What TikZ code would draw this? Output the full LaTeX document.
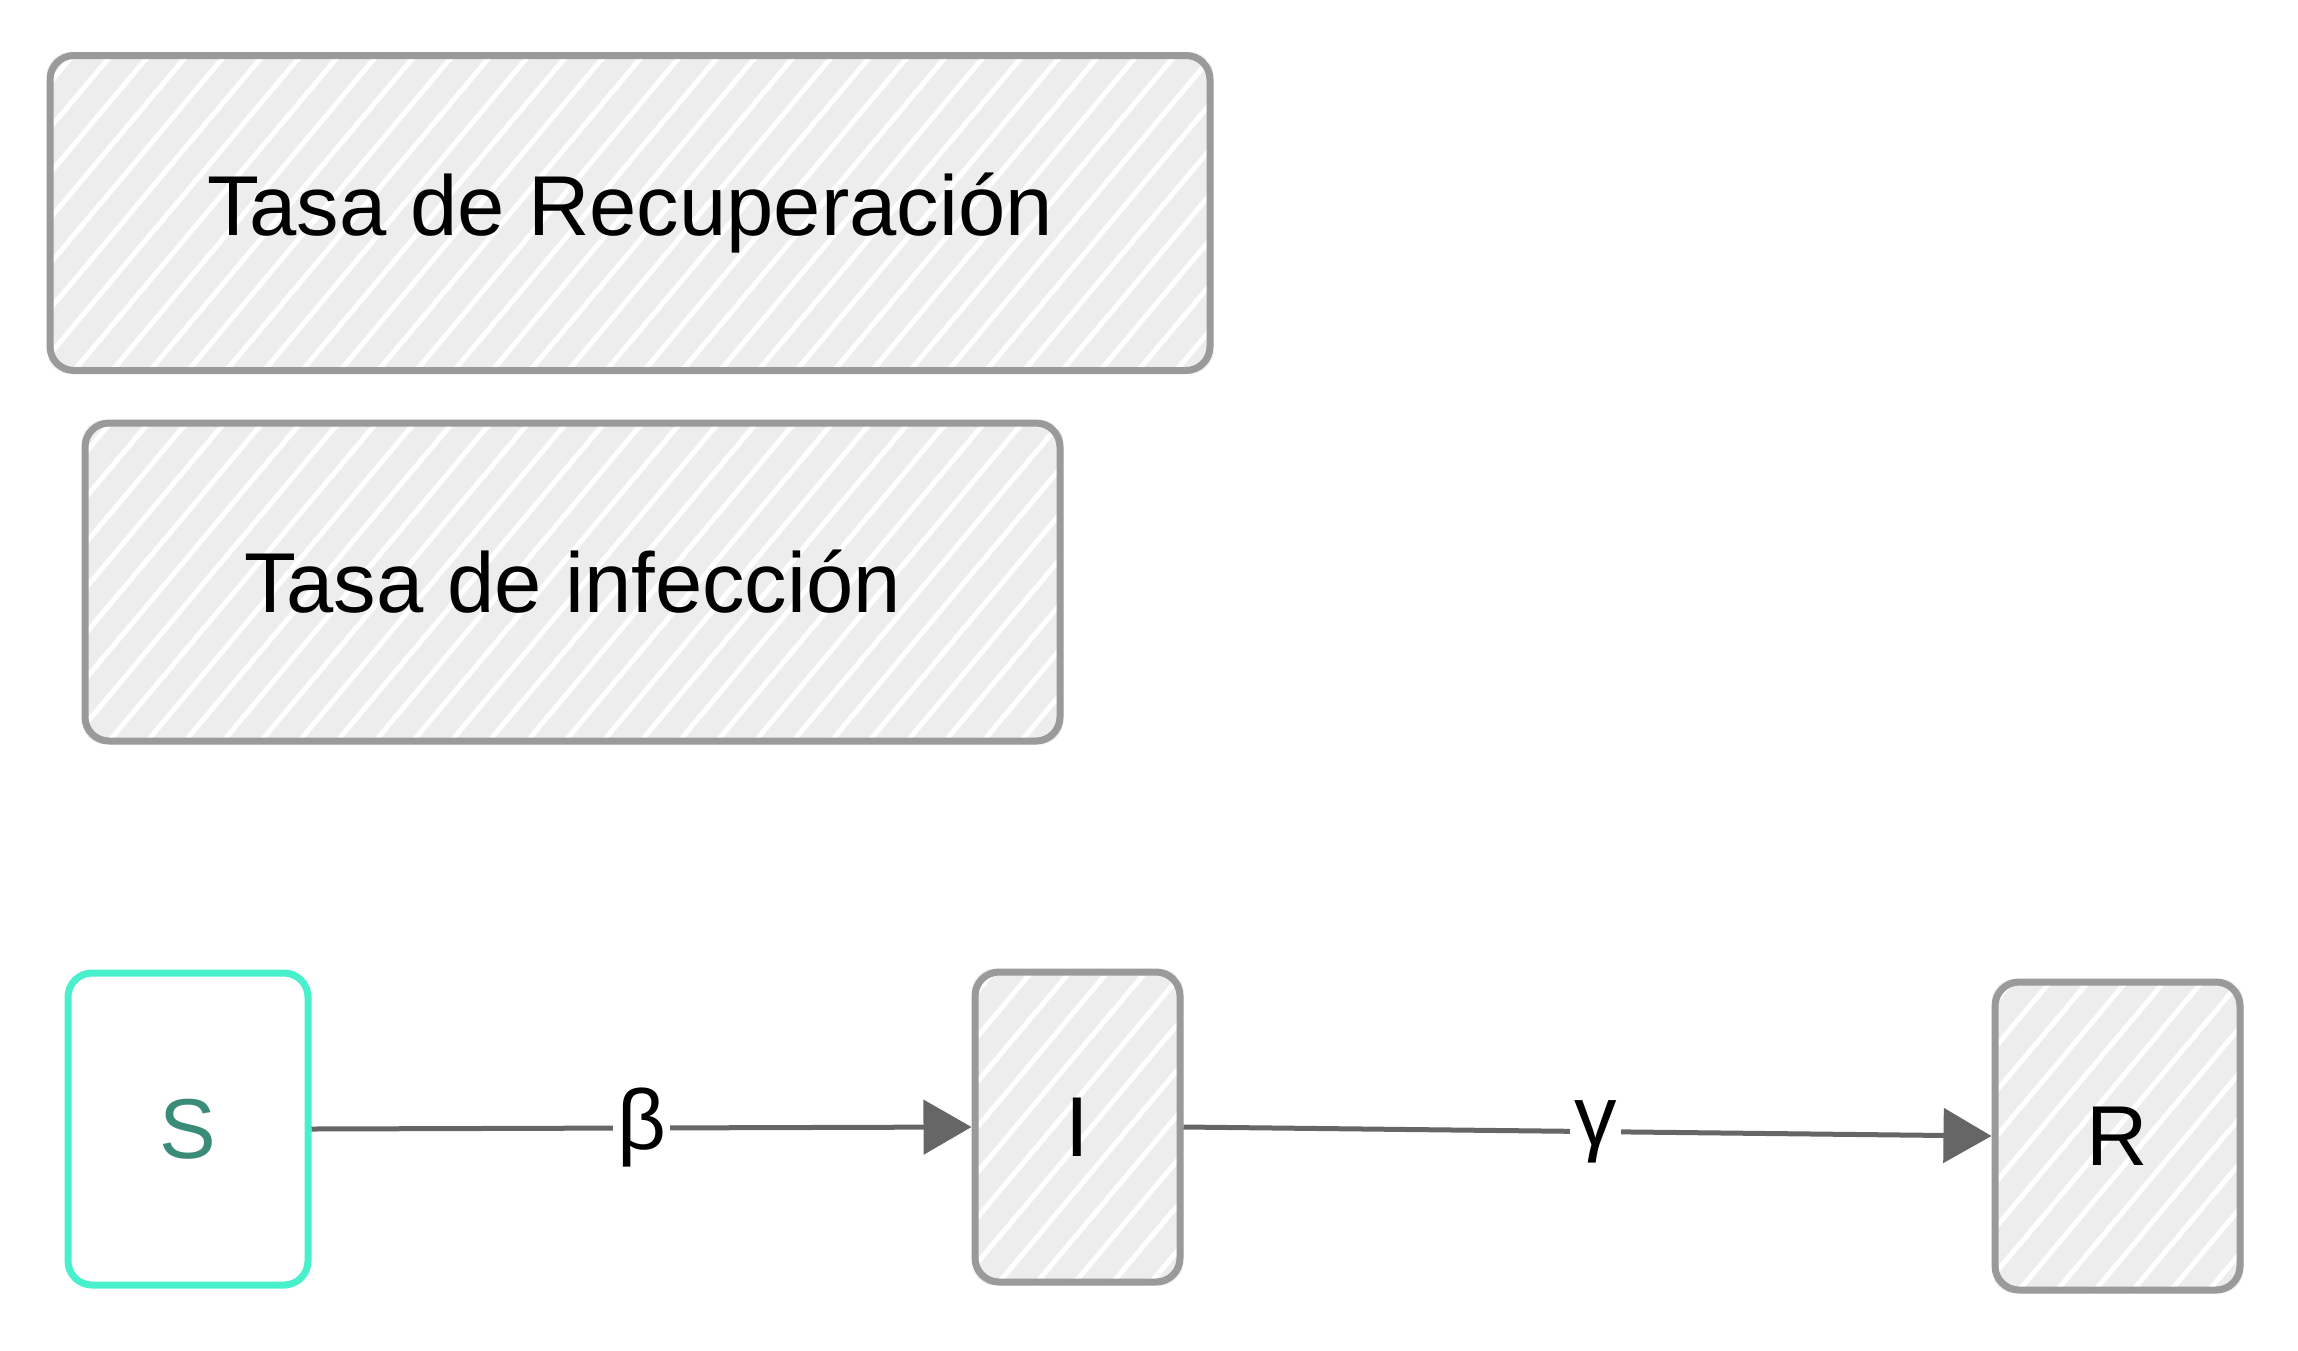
\documentclass[tikz,border=0pt]{standalone}
\usepackage{fontspec}
\setmainfont{Liberation Sans}
\usetikzlibrary{arrows.meta,backgrounds,calc}
\definecolor{strokegray}{HTML}{9A9A9A}
\definecolor{fillgray}{HTML}{EDEDED}
\definecolor{turq}{HTML}{48F0CC}
\definecolor{steal}{HTML}{3A8C78}
\definecolor{arrgray}{HTML}{666666}
\tikzset{
  sbox/.style={draw=strokegray, line width=3.5pt, rounded corners=12pt, inner sep=0pt,
    font=\fontsize{42.5}{50}\selectfont, text=black},
  tbox/.style={sbox, draw=turq, text=steal},
  arr/.style={draw=arrgray, line width=2.5pt, -{Triangle[length=24pt,width=27pt]}},
  lbl/.style={fill=white, inner sep=2pt, font=\fontsize{42.5}{50}\selectfont, text=black},
  hatch/.style={white, line width=2.5pt}
}
\newcommand\hatchfill[1]{%
  \begin{scope}
    \clip[rounded corners=12pt] (#1.south west) rectangle (#1.north east);
    \fill[fillgray] (#1.south west) rectangle (#1.north east);
    \path (#1.south west) coordinate (hsw);
    \foreach \k in {-12,...,36}{
      \draw[hatch] ($(hsw)+(\k*38-30,20)$) -- ++(336,-400);
    }
  \end{scope}}
\begin{document}
\begin{tikzpicture}[x=0.5pt,y=-0.5pt]
\useasboundingbox (0,0) rectangle (2298,1350);
\node[sbox, minimum width=580pt, minimum height=157.5pt] (rec) at (630,213) {Tasa de Recuperación};
\node[sbox, minimum width=487.5pt, minimum height=159pt] (inf) at (572.5,582) {Tasa de infección};
\node[tbox, minimum width=120pt, minimum height=156pt] (S) at (188,1129) {S};
\node[sbox, minimum width=102.5pt, minimum height=155pt] (I) at (1077.5,1127) {I};
\node[sbox, minimum width=122.5pt, minimum height=154pt] (R) at (2117.5,1136) {R};
\begin{pgfonlayer}{background}
\hatchfill{rec}
\hatchfill{inf}
\hatchfill{I}
\hatchfill{R}
\end{pgfonlayer}
\draw[arr] (S.east) -- node[lbl] {β} (I.west);
\draw[arr] (I.east) -- node[lbl, pos=0.51] {γ} (R.west);
\end{tikzpicture}
\end{document}
